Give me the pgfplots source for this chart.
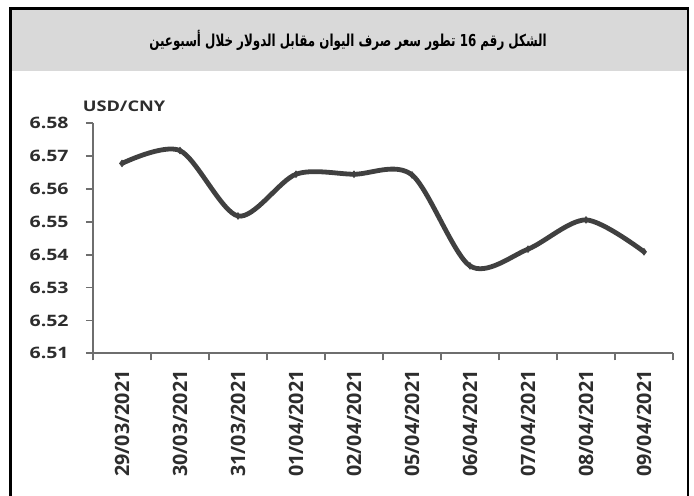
\documentclass[border=0pt]{standalone}
\usepackage{pgfplots}
\pgfplotsset{compat=1.18}
\usepackage{fontspec}
\setmainfont{Open Sans}
\newfontfamily\widefont{Open Sans}[FakeStretch=1.24]
\newfontfamily\arabicfont[Script=Arabic]{DejaVu Sans}
\TeXXeTstate=1
\definecolor{linec}{RGB}{64,64,64}
\definecolor{axisgray}{RGB}{110,110,110}
\definecolor{band}{RGB}{217,217,217}
\definecolor{txt}{RGB}{45,45,45}
\begin{document}
\begin{tikzpicture}[x=0.75pt,y=0.75pt]
\fill[band] (10.8,-8.7) rectangle (688,-70.7);
\draw[black, line width=2.2pt] (10.8,-496) -- (10.8,-8.7) -- (688,-8.7) -- (688,-496);
\node[xscale=0.81, yscale=1.12, font=\arabicfont\bfseries\fontsize{11}{13}\selectfont, text=black] at (348,-40) {\beginR الشكل رقم \beginL 16\endL{} تطور سعر صرف اليوان مقابل الدولار خلال أسبوعين\endR};
\begin{axis}[
  at={(69.75pt,-264.975pt)}, anchor=south west,
  scale only axis, width=435pt, height=172.5pt,
  xmin=-0.5, xmax=9.5, ymin=6.51, ymax=6.58,
  axis lines*=left,
  axis line style={axisgray, line width=1.3pt, -},
  tick align=outside,
  major tick length=5.25pt, minor tick length=5.25pt,
  ytick={6.51,6.52,6.53,6.54,6.55,6.56,6.57,6.58},
  yticklabels={6.51,6.52,6.53,6.54,6.55,6.56,6.57,6.58},
  yticklabel style={font=\widefont\bfseries\fontsize{11.8}{12}\selectfont, text=txt, xshift=-9.5pt},
  ytick style={axisgray, line width=1.3pt},
  xtick={0,...,9},
  minor xtick={-0.5,0.5,...,9.5},
  x tick style={draw=none},
  minor x tick style={draw=axisgray, line width=1.3pt},
  xticklabels={29/03/2021,30/03/2021,31/03/2021,01/04/2021,02/04/2021,05/04/2021,06/04/2021,07/04/2021,08/04/2021,09/04/2021},
  xticklabel style={rotate=90, anchor=east, font=\bfseries\fontsize{14.8}{15}\selectfont, text=txt, xshift=-4pt},
  clip=false,
]
\addplot[linec, line width=3.6pt, smooth, tension=0.5, mark=diamond*, mark size=2.5pt, mark options={solid, fill=linec, line width=0.5pt}]
coordinates {
(0,6.5678)
(1,6.5717)
(2,6.5518)
(3,6.5645)
(4,6.5645)
(5,6.5643)
(6,6.5366)
(7,6.5417)
(8,6.5506)
(9,6.5409)
};
\end{axis}
\node[font=\widefont\bfseries\fontsize{11}{12}\selectfont, text=txt] at (124,-106) {USD/CNY};
\pgfresetboundingbox
\path[use as bounding box] (0,0) rectangle (694,-496);
\end{tikzpicture}
\end{document}
